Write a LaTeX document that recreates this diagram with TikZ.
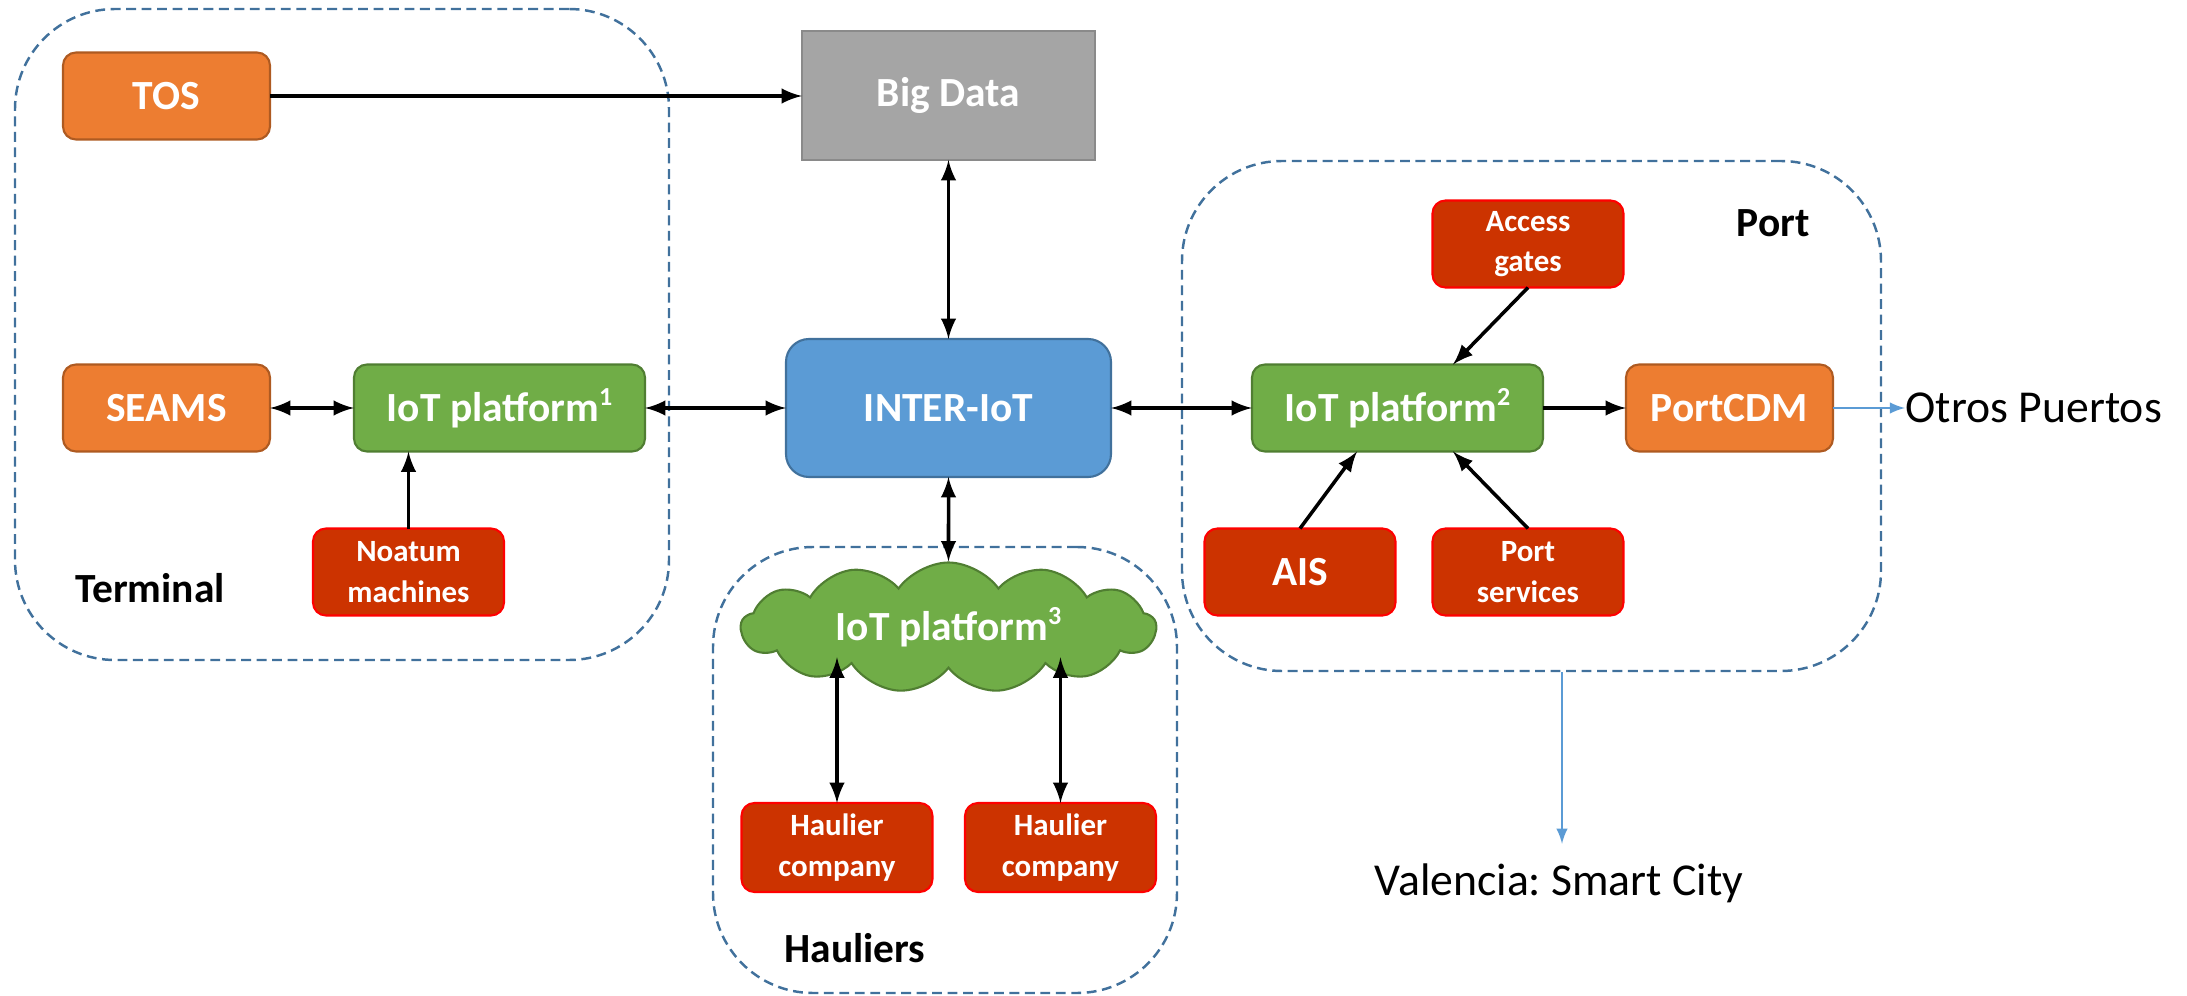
\documentclass[tikz,border=0pt]{standalone}
\usepackage{fontspec}
\setmainfont{Carlito}
\usepackage{xcolor}
\usetikzlibrary{positioning}
\usetikzlibrary{arrows}
\usetikzlibrary{calc}
\usetikzlibrary{shapes.symbols}

\definecolor{boxorange}{HTML}{ED7D31}
\definecolor{boxorangeline}{HTML}{AE5A21}
\definecolor{boxgreen}{HTML}{70AD47}
\definecolor{boxgreenline}{HTML}{507E32}
\definecolor{boxred}{HTML}{CC3300}
\definecolor{boxblue}{HTML}{5B9BD5}
\definecolor{boxblueline}{HTML}{41719C}
\definecolor{boxgray}{HTML}{A5A5A5}
\definecolor{boxgrayline}{HTML}{8A8A8A}
\definecolor{regionline}{HTML}{41719C}

\newcommand{\platnum}[1]{\raisebox{0.38em}{\fontsize{7.4}{8}\selectfont #1}}
\frenchspacing

\begin{document}
\begin{tikzpicture}
			\tikzstyle{box} = [rounded corners=0.13cm, line width=0.6pt, minimum height=0.87cm, inner sep=0pt, outer sep=0pt, text=white, font=\fontsize{11.8}{14}\selectfont\bfseries]
			\tikzstyle{orangebox} = [box, draw=boxorangeline, fill=boxorange, minimum width=2.07cm]
			\tikzstyle{greenbox} = [box, draw=boxgreenline, fill=boxgreen, minimum width=2.91cm]
			\tikzstyle{redbox} = [box, draw=red, fill=boxred, minimum width=1.91cm, align=center, font=\fontsize{8.8}{11.6}\selectfont\bfseries]
			\tikzstyle{region} = [draw=regionline, line width=0.7pt, dash pattern=on 2.8pt off 1.6pt, rounded corners=1cm]
			\tikzstyle{title} = [inner sep=0pt, font=\fontsize{11.8}{14}\selectfont\bfseries]
			\tikzstyle{place} = [inner sep=0pt, font=\fontsize{13}{15}\selectfont]
			\tikzstyle{arrow} = [-latex, line width=1pt]
			\tikzstyle{biarrow} = [latex-latex, line width=1pt]
			\tikzstyle{link} = [-latex, line width=0.5pt, draw=boxblue, fill=boxblue]
			
			\useasboundingbox (0,0) rectangle (21.87,-9.96);
			
			% dashed areas
			\node [region, minimum width=6.54cm, minimum height=6.51cm] (terminal) at (3.42,-3.345) {};
			\node [region, minimum width=4.64cm, minimum height=4.46cm] (hauliers) at (9.45,-7.70) {};
			\node [region, minimum width=6.99cm, minimum height=5.10cm] (port) at (15.315,-4.16) {};
			
			% terminal
			\node [orangebox] (tos) at (1.665,-0.96) {TOS};
			\node [orangebox, below=2.25cm of tos] (seams) {SEAMS};
			\node [greenbox, right=0.84cm of seams] (iot1) {IoT platform\platnum{1}};
			\node [redbox, below=0.77cm of iot1, xshift=-0.91cm] (noatum) {Noatum\\machines};
			\node [title] (terminaltext) at (1.50,-5.88) {Terminal};
			
			% centre
			\node [box, draw=boxblueline, fill=boxblue, rounded corners=0.23cm, minimum width=3.25cm, minimum height=1.38cm, right=1.41cm of iot1] (inter) {INTER-IoT};
			\node [box, draw=boxgrayline, fill=boxgray, rounded corners=0pt, minimum width=2.93cm, minimum height=1.29cm, above=1.79cm of inter] (bigdata) {Big Data};
			
			% hauliers
			\node [cloud, cloud puffs=13, cloud puff arc=110, cloud ignores aspect, draw=boxgreenline, fill=boxgreen, line width=0.6pt, text=white, font=\fontsize{11.8}{14}\selectfont\bfseries, minimum width=4.15cm, minimum height=1.21cm] (cloud) at (9.485,-6.275) {IoT platform\platnum{3}};
			\node [redbox, minimum height=0.89cm] (h1) at (8.37,-8.475) {Haulier\\company};
			\node [redbox, minimum height=0.89cm] (h2) at (10.605,-8.475) {Haulier\\company};
			\node [title] (haulierstext) at (8.55,-9.48) {Hauliers};
			
			% port
			\node [greenbox, right=1.41cm of inter] (iot2) {IoT platform\platnum{2}};
			\node [orangebox, right=0.83cm of iot2] (portcdm) {PortCDM};
			\node [redbox, above=0.77cm of iot2, xshift=1.305cm] (access) {Access\\gates};
			\node [redbox, below=0.77cm of iot2, xshift=1.305cm] (portserv) {Port\\services};
			\node [redbox, left=0.37cm of portserv, font=\fontsize{11.8}{14}\selectfont\bfseries] (ais) {AIS};
			\node [title] (porttext) at (17.73,-2.23) {Port};
			
			% outside
			\node [place, right=0.72cm of portcdm] (otros) {Otros Puertos};
			\node [place] (valencia) at (15.59,-8.83) {Valencia: Smart City};
			
			\draw [arrow] (tos.east) -- (tos.east -| bigdata.west);
			\draw [biarrow] (bigdata) -- (inter);
			\draw [biarrow] (seams) -- (iot1);
			\draw [biarrow] (iot1) -- (inter);
			\draw [arrow] (noatum) -- (noatum |- iot1.south);
			\draw [biarrow] (inter) -- (cloud);
			\draw [biarrow] (h1) -- ($(h1 |- cloud.south)+(0,0.12)$);
			\draw [biarrow] (h2) -- ($(h2 |- cloud.south)+(0,0.12)$);
			\draw [biarrow] (inter) -- (iot2);
			\draw [arrow] (iot2) -- (portcdm);
			\draw [arrow] (access.south) -- ($(iot2.north)+(0.555,0)$);
			\draw [arrow] (ais.north) -- ($(iot2.south)+(-0.405,0)$);
			\draw [arrow] (portserv.north) -- ($(iot2.south)+(0.555,0)$);
			\draw [link] (portcdm) -- (otros);
			\coordinate (portexit) at ($(port.south)+(0.305,0)$);
			\draw [link] (portexit) -- ($(portexit |- valencia.north)+(0,0.19)$);
\end{tikzpicture}
\end{document}
